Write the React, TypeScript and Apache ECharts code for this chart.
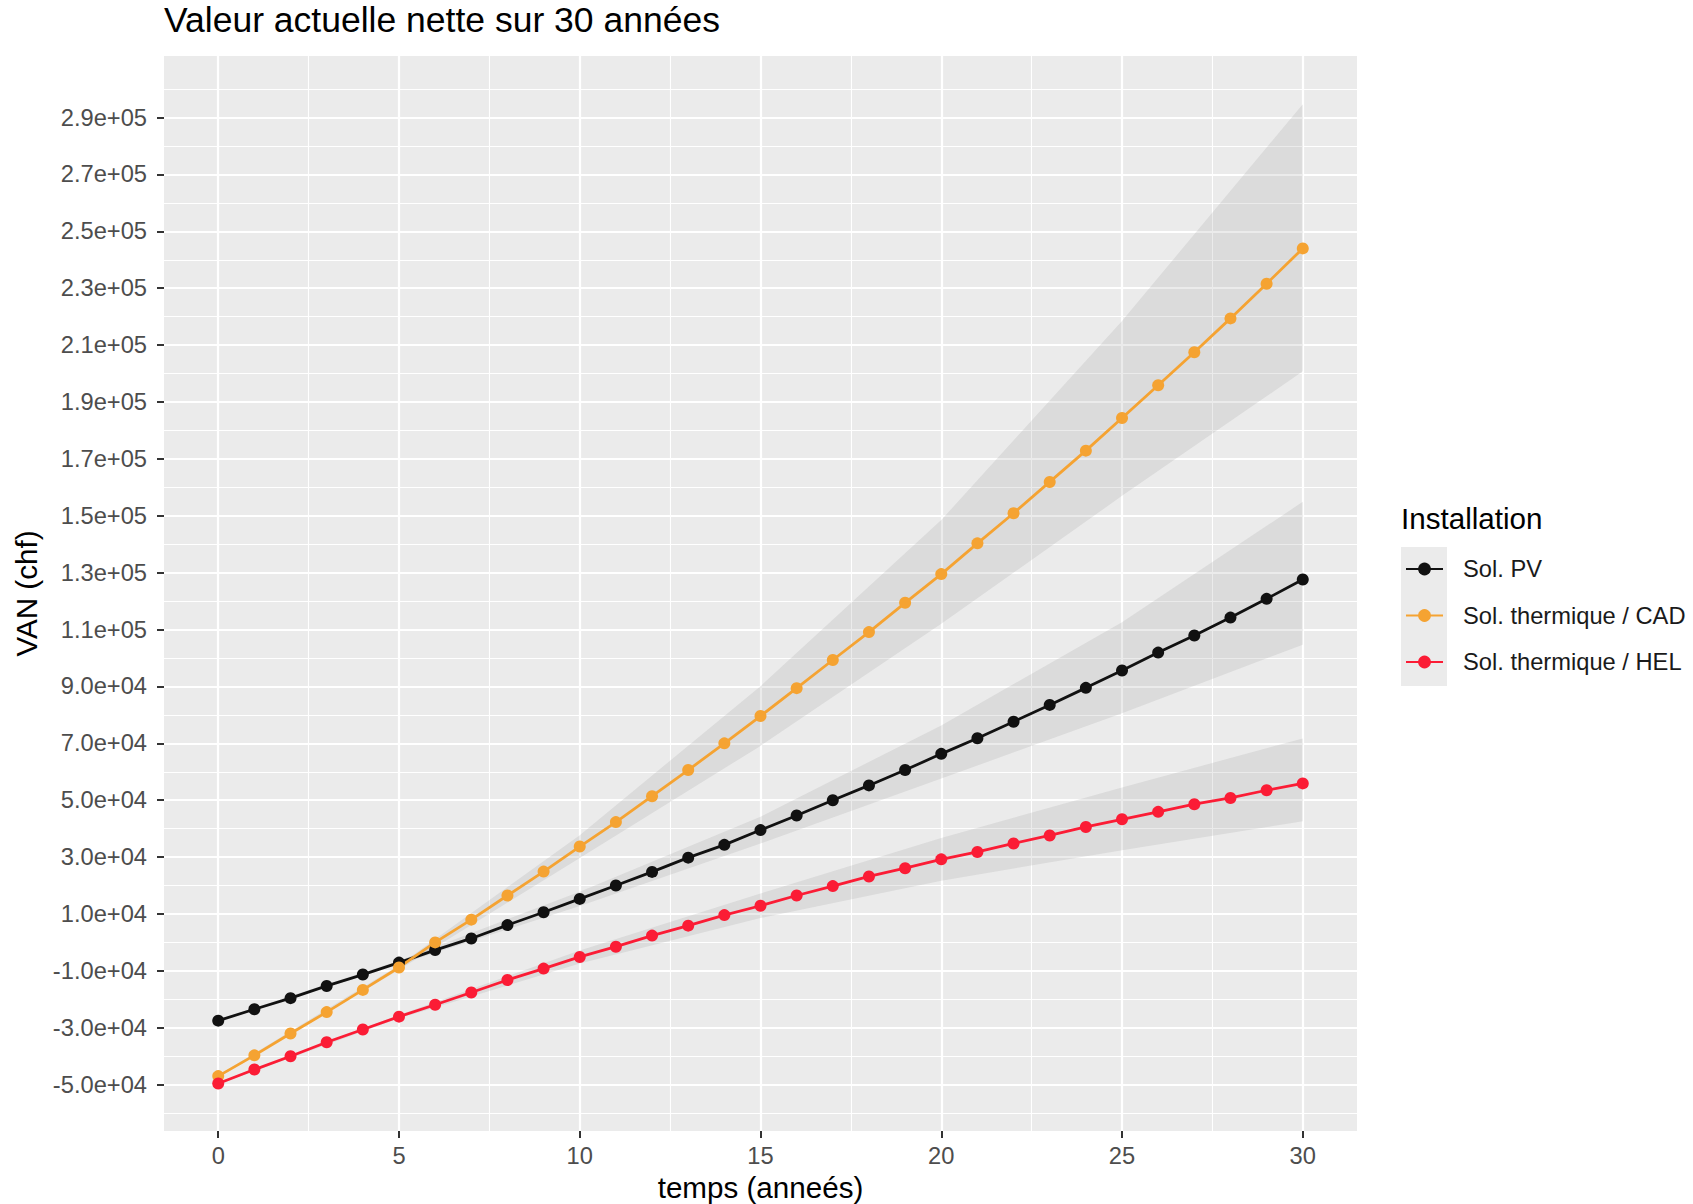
import React, { useEffect, useRef } from 'react';
import * as echarts from 'echarts';

// ---- data ----
const years = [0, 1, 2, 3, 4, 5, 6, 7, 8, 9, 10, 11, 12, 13, 14, 15, 16, 17, 18, 19, 20, 21, 22, 23, 24, 25, 26, 27, 28, 29, 30];
const solPV = [-27500, -23500, -19600, -15300, -11300, -7100, -2700, 1400, 6100, 10600, 15300, 20000, 24800, 29800, 34300, 39500, 44600, 50000, 55200, 60600, 66300, 71800, 77600, 83500, 89500, 95600, 101900, 107900, 114200, 120800, 127600];
const solCAD = [-47000, -39700, -32000, -24500, -16700, -8800, 0, 8000, 16500, 24900, 33700, 42300, 51400, 60600, 70000, 79600, 89400, 99300, 109100, 119400, 129500, 140300, 150900, 161900, 172900, 184400, 195900, 207500, 219400, 231600, 244000];
const solHEL = [-49600, -44700, -40000, -35100, -30600, -26100, -21900, -17600, -13200, -9200, -5100, -1500, 2400, 5900, 9600, 12900, 16500, 19800, 23200, 26100, 29200, 31800, 34800, 37600, 40600, 43300, 45900, 48600, 50800, 53500, 55900];

const bandYears = [0, 5, 10, 15, 20, 25, 30];
const pvLower = [-27800, -7800, 12800, 34800, 57600, 80600, 104700];
const pvUpper = [-27200, -6400, 17800, 44200, 76300, 112600, 154900];
const cadLower = [-47300, -9600, 29700, 69100, 112000, 157000, 200800];
const cadUpper = [-46700, -8000, 37700, 90100, 148500, 218500, 294700];
const helLower = [-49900, -26700, -7400, 8600, 21700, 32400, 42600];
const helUpper = [-49300, -25500, -2800, 17200, 36700, 54500, 71700];

const xTicks = [0, 5, 10, 15, 20, 25, 30];
const xMinor = [2.5, 7.5, 12.5, 17.5, 22.5, 27.5];
const yTicks = [-50000, -30000, -10000, 10000, 30000, 50000, 70000, 90000, 110000, 130000, 150000, 170000, 190000, 210000, 230000, 250000, 270000, 290000];
const yMinor = [-60000, -40000, -20000, 0, 20000, 40000, 60000, 80000, 100000, 120000, 140000, 160000, 180000, 200000, 220000, 240000, 260000, 280000, 300000];

const seriesNames = ['Sol. PV', 'Sol. thermique / CAD', 'Sol. thermique / HEL'];
const seriesColors = ['#111111', '#F5A332', '#FB1C35'];

const FONT = '"Liberation Sans", Arial, Helvetica, sans-serif';

function sciLabel(v: number): string {
  const s = v.toExponential(1);
  return s.replace(/e([+-])(\d)$/, (_m, sign, d) => 'e' + sign + '0' + d);
}

function ribbon(lower: number[], upper: number[]) {
  return {
    type: 'custom',
    silent: true,
    z: 1,
    xAxisIndex: 0,
    yAxisIndex: 0,
    data: [[bandYears[0], lower[0]]],
    renderItem: (_params: any, api: any) => {
      const pts: number[][] = [];
      for (let i = 0; i < bandYears.length; i++) pts.push(api.coord([bandYears[i], upper[i]]));
      for (let i = bandYears.length - 1; i >= 0; i--) pts.push(api.coord([bandYears[i], lower[i]]));
      return {
        type: 'polygon',
        shape: { points: pts },
        style: { fill: 'rgba(153,153,153,0.2)' },
      };
    },
  };
}

function lineSeries(name: string, values: number[], color: string) {
  return {
    type: 'line',
    name,
    xAxisIndex: 0,
    yAxisIndex: 0,
    data: years.map((y, i) => [y, values[i]]),
    symbol: 'circle',
    symbolSize: 12,
    showSymbol: true,
    z: 3,
    itemStyle: { color },
    lineStyle: { color, width: 2.8 },
    emphasis: { disabled: true },
  };
}

export default function App() {
  const ref = useRef<HTMLDivElement>(null);

  useEffect(() => {
    if (!ref.current) return;
    const chart = echarts.init(ref.current, undefined, { renderer: 'svg' });

    const xMin = -1.5;
    const xMax = 31.5;
    const yMin = -66300;
    const yMax = 311650;

    const axisLabelStyle = { color: '#4D4D4D', fontSize: 23.7, fontFamily: FONT };

    chart.setOption({
      animation: false,
      backgroundColor: '#FFFFFF',
      title: {
        text: 'Valeur actuelle nette sur 30 années',
        left: 164,
        top: 2,
        padding: 0,
        textStyle: { fontSize: 35.5, fontWeight: 'normal', color: '#000000', fontFamily: FONT },
      },
      grid: {
        left: 164,
        top: 56,
        width: 1193,
        height: 1075,
        show: true,
        backgroundColor: '#EBEBEB',
        borderWidth: 0,
        containLabel: false,
        outerBoundsMode: 'none',
      },
      legend: {
        data: seriesNames,
        orient: 'vertical',
        left: 1405,
        top: 557,
        itemWidth: 37,
        itemHeight: 16,
        itemGap: 22.5,
        padding: 0,
        selectedMode: false,
        textStyle: { fontSize: 23.7, color: '#1A1A1A', fontFamily: FONT, padding: [0, 0, 0, 15] },
      },
      graphic: [
        {
          type: 'rect',
          z: 0,
          shape: { x: 1401, y: 547, width: 46, height: 139 },
          style: { fill: '#EBEBEB' },
        },
        {
          type: 'text',
          left: 1401,
          top: 503,
          style: { text: 'Installation', font: `29.6px ${FONT}`, fill: '#000000' },
        },
      ],
      xAxis: [
        {
          type: 'value',
          min: xMin,
          max: xMax,
          name: 'temps (anneés)',
          nameLocation: 'middle',
          nameGap: 40,
          nameTextStyle: { fontSize: 29.6, color: '#000000', fontFamily: FONT },
          axisLine: { show: false, onZero: false },
          axisTick: { show: true, length: 7, customValues: xTicks, lineStyle: { color: '#333333', width: 2 } },
          axisLabel: { show: true, margin: 13, customValues: xTicks, ...axisLabelStyle },
          splitLine: { show: true, lineStyle: { color: '#FFFFFF', width: 2.2 } },
        },
        {
          type: 'value',
          min: xMin,
          max: xMax,
          position: 'bottom',
          axisLine: { show: false, onZero: false },
          axisTick: { show: false, customValues: xMinor },
          axisLabel: { show: false, customValues: xMinor },
          splitLine: { show: true, lineStyle: { color: '#FFFFFF', width: 1.1 } },
        },
      ],
      yAxis: [
        {
          type: 'value',
          min: yMin,
          max: yMax,
          name: 'VAN (chf)',
          nameLocation: 'middle',
          nameGap: 122,
          nameTextStyle: { fontSize: 29.6, color: '#000000', fontFamily: FONT },
          axisLine: { show: false, onZero: false },
          axisTick: { show: true, length: 7, customValues: yTicks, lineStyle: { color: '#333333', width: 2 } },
          axisLabel: { show: true, margin: 17, customValues: yTicks, formatter: sciLabel, ...axisLabelStyle },
          splitLine: { show: true, lineStyle: { color: '#FFFFFF', width: 2.2 } },
        },
        {
          type: 'value',
          min: yMin,
          max: yMax,
          position: 'left',
          axisLine: { show: false, onZero: false },
          axisTick: { show: false, customValues: yMinor },
          axisLabel: { show: false, customValues: yMinor },
          splitLine: { show: true, lineStyle: { color: '#FFFFFF', width: 1.1 } },
        },
      ],
      series: [
        ribbon(pvLower, pvUpper),
        ribbon(cadLower, cadUpper),
        ribbon(helLower, helUpper),
        lineSeries(seriesNames[0], solPV, seriesColors[0]),
        lineSeries(seriesNames[1], solCAD, seriesColors[1]),
        lineSeries(seriesNames[2], solHEL, seriesColors[2]),
      ],
    });

    return () => chart.dispose();
  }, []);

  return (
    <div
      ref={ref}
      style={{ position: 'absolute', left: 0, top: 0, width: 1693, height: 1204 }}
    />
  );
}
